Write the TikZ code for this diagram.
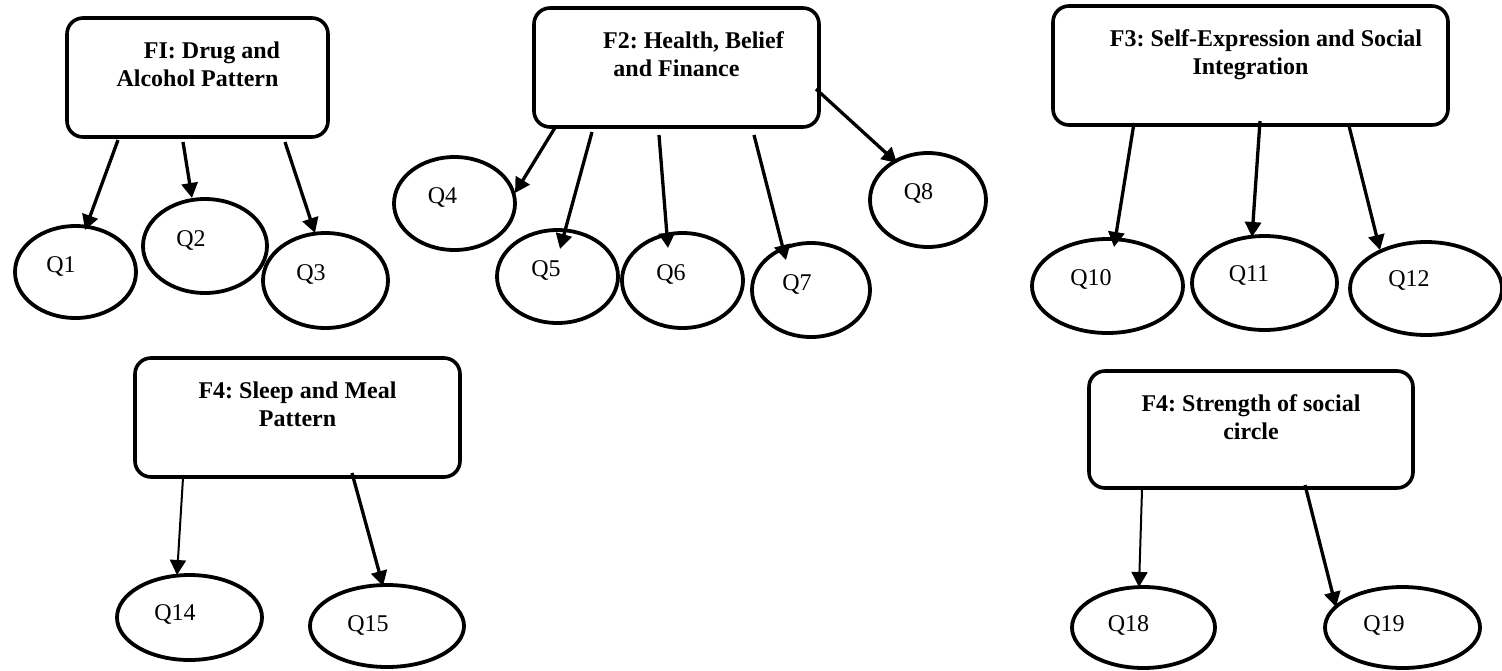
\documentclass[tikz,border=0pt]{standalone}
\usepackage{fontspec}
\setmainfont{Liberation Serif}
\usetikzlibrary{arrows.meta,shapes.geometric}
\frenchspacing
\begin{document}
\begin{tikzpicture}[x=1pt,y=-1pt,
  fbox/.style={draw, line width=3.6pt, rounded corners=16pt, inner sep=0pt, outer sep=0pt},
  ftxt/.style={anchor=north, align=center, inner sep=0pt, font=\bfseries\fontsize{24}{28}\selectfont},
  qell/.style={draw, ellipse, line width=3.8pt, inner sep=0pt, outer sep=0pt},
  qtxt/.style={anchor=base, inner sep=0pt, font=\fontsize{24}{28}\selectfont},
  arr/.style={line width=3.3pt, -{Triangle[length=15pt,width=16pt]}},
  thinarr/.style={line width=2pt, -{Triangle[length=15pt,width=16pt]}}]
\path[use as bounding box, fill=white] (0,0) rectangle (1502,670);

% factor boxes
\node[fbox, minimum width=261pt, minimum height=119pt] (f1) at (197.5,77.5) {};
\node[ftxt] (f1t) at ([shift={(0,23.5)}]f1.north) {\hspace*{29pt}FI: Drug and\\Alcohol Pattern};
\node[fbox, minimum width=285pt, minimum height=119pt] (f2) at (676.5,67.5) {};
\node[ftxt] (f2t) at ([shift={(0,23.5)}]f2.north) {\hspace*{34pt}F2: Health, Belief\\and Finance};
\node[fbox, minimum width=395pt, minimum height=119pt] (f3) at (1250.5,65.5) {};
\node[ftxt] (f3t) at ([shift={(0,23.5)}]f3.north) {\hspace*{31pt}F3: Self-Expression and Social\\Integration};
\node[fbox, minimum width=325pt, minimum height=119pt] (f4) at (297.5,417.5) {};
\node[ftxt] (f4t) at ([shift={(0,23.5)}]f4.north) {F4: Sleep and Meal\\Pattern};
\node[fbox, minimum width=324pt, minimum height=117pt] (f5) at (1251,429.5) {};
\node[ftxt] (f5t) at ([shift={(0,23.5)}]f5.north) {F4: Strength of social\\circle};

% question ellipses
\node[qell, minimum width=121pt, minimum height=92pt] (q1) at (75.5,272) {};
\node[qtxt] (q1t) at ([shift={(-14.5,0)}]q1.center) {Q1};
\node[qell, minimum width=124pt, minimum height=94pt] (q2) at (205,246) {};
\node[qtxt] (q2t) at ([shift={(-14,0)}]q2.center) {Q2};
\node[qell, minimum width=125pt, minimum height=95pt] (q3) at (325.5,280.5) {};
\node[qtxt] (q3t) at ([shift={(-14.5,0)}]q3.center) {Q3};
\node[qell, minimum width=121pt, minimum height=93pt] (q4) at (454.5,203.5) {};
\node[qtxt] (q4t) at ([shift={(-12,-0.5)}]q4.center) {Q4};
\node[qell, minimum width=121pt, minimum height=93pt] (q5) at (557.5,276.5) {};
\node[qtxt] (q5t) at ([shift={(-11.5,-0.5)}]q5.center) {Q5};
\node[qell, minimum width=121pt, minimum height=95pt] (q6) at (682.5,280.5) {};
\node[qtxt] (q6t) at ([shift={(-11.5,-0.5)}]q6.center) {Q6};
\node[qell, minimum width=118pt, minimum height=94pt] (q7) at (811,290) {};
\node[qtxt] (q7t) at ([shift={(-14,0)}]q7.center) {Q7};
\node[qell, minimum width=116pt, minimum height=94pt] (q8) at (928,200) {};
\node[qtxt] (q8t) at ([shift={(-9.5,-1)}]q8.center) {Q8};
\node[qell, minimum width=151pt, minimum height=94pt] (q10) at (1107.5,286) {};
\node[qtxt] (q10t) at ([shift={(-16.5,-1)}]q10.center) {Q10};
\node[qell, minimum width=145pt, minimum height=94pt] (q11) at (1264.5,283) {};
\node[qtxt] (q11t) at ([shift={(-15.5,-2)}]q11.center) {Q11};
\node[qell, minimum width=152pt, minimum height=93pt] (q12) at (1426,288.5) {};
\node[qtxt] (q12t) at ([shift={(-17,-2)}]q12.center) {Q12};
\node[qell, minimum width=145pt, minimum height=85pt] (q14) at (189.5,617.5) {};
\node[qtxt] (q14t) at ([shift={(-14.5,2.5)}]q14.center) {Q14};
\node[qell, minimum width=154pt, minimum height=82pt] (q15) at (387,626) {};
\node[qtxt] (q15t) at ([shift={(-19,5)}]q15.center) {Q15};
\node[qell, minimum width=143pt, minimum height=81pt] (q18) at (1143.5,627.5) {};
\node[qtxt] (q18t) at ([shift={(-15,3.5)}]q18.center) {Q18};
\node[qell, minimum width=155pt, minimum height=81pt] (q19) at (1402.5,627.5) {};
\node[qtxt] (q19t) at ([shift={(-18.5,3.5)}]q19.center) {Q19};

% connectors
\draw[arr] ([shift={(-79.5,62.5)}]f1.center) -- ([shift={(9.5,-42)}]q1.center);
\draw[arr] ([shift={(-14.5,64.5)}]f1.center) -- ([shift={(-13,-48)}]q2.center);
\draw[arr] ([shift={(87.5,64.5)}]f1.center) -- ([shift={(-10.5,-47.5)}]q3.center);

\draw[arr] ([shift={(-120.5,58.5)}]f2.center) -- ([shift={(60.5,-10.5)}]q4.center);
\draw[arr] ([shift={(-84.5,64.5)}]f2.center) -- ([shift={(2.5,-27.5)}]q5.center);
\draw[arr] ([shift={(-17.5,67.5)}]f2.center) -- ([shift={(-14.5,-32.5)}]q6.center);
\draw[arr] ([shift={(77.5,67.5)}]f2.center) -- ([shift={(-25,-30)}]q7.center);
\draw[arr] ([shift={(139.5,21.5)}]f2.center) -- ([shift={(-31,-37)}]q8.center);

\draw[arr] ([shift={(-116.5,57.5)}]f3.center) -- ([shift={(6.5,-39)}]q10.center);
\draw[arr] ([shift={(9.5,55.5)}]f3.center) -- ([shift={(-12.5,-46)}]q11.center);
\draw[arr] ([shift={(98.5,60.5)}]f3.center) -- ([shift={(-46,-38.5)}]q12.center);

\draw[thinarr] ([shift={(-114.5,60.5)}]f4.center) -- ([shift={(-12.5,-42.5)}]q14.center);
\draw[arr] ([shift={(54.5,55.5)}]f4.center) -- ([shift={(-4,-40)}]q15.center);

\draw[thinarr] ([shift={(-109,60.5)}]f5.center) -- ([shift={(-4.5,-40.5)}]q18.center);
\draw[arr] ([shift={(54,55.5)}]f5.center) -- ([shift={(-66.5,-20.5)}]q19.center);
\end{tikzpicture}
\end{document}
